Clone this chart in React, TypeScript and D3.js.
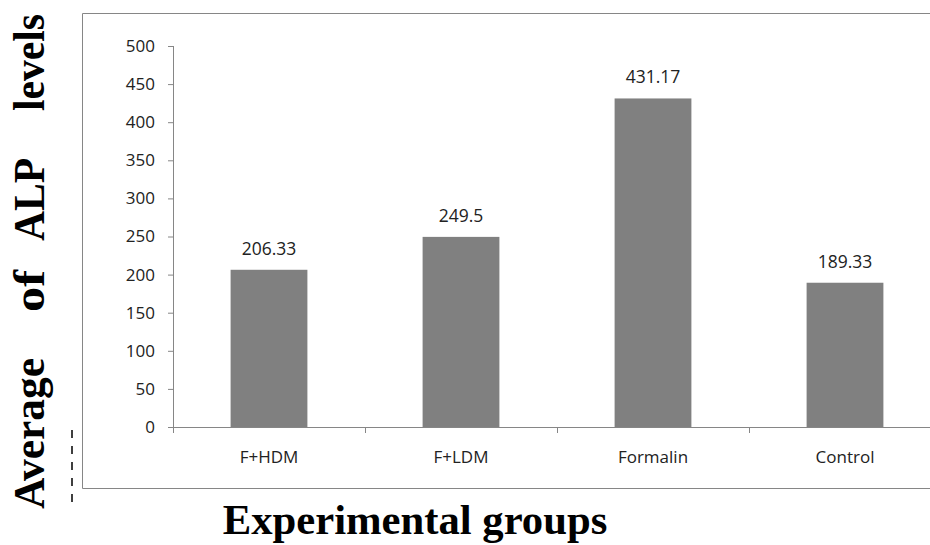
import * as d3 from "d3";
import React from "react";

const groups = ["F+HDM", "F+LDM", "Formalin", "Control"];
const averages = [206.33, 249.5, 431.17, 189.33];
const valueLabels = ["206.33", "249.5", "431.17", "189.33"];
const yTicks = [0, 50, 100, 150, 200, 250, 300, 350, 400, 450, 500];
const yTitleWords = ["Average", "of", "ALP", "levels"];

const width = 930;
const height = 545;
const plot = { left: 173, right: 941, top: 46, bottom: 427 };

const x = d3
  .scaleBand<string>()
  .domain(groups)
  .range([plot.left, plot.right])
  .paddingInner(0.6)
  .paddingOuter(0.3);
const y = d3.scaleLinear().domain([0, 500]).range([plot.bottom, plot.top]);

// word spans along the rotated title, measured from the top (start, end)
const wordSpans: [number, number][] = [
  [358, 509],
  [270, 312],
  [158, 241],
  [14, 111],
];

const axisColor = "#868686";
const font = "'Open Sans', 'Noto Sans', sans-serif";
const serif = "'Liberation Serif', 'DejaVu Serif', serif";

export default function App() {
  const step = x.step();
  const boundaries = groups.map((_, i) => plot.left + i * step).concat(plot.right);
  return (
    <svg
      width={width}
      height={height}
      viewBox={`0 0 ${width} ${height}`}
      style={{ position: "absolute", left: 0, top: 0, background: "white" }}
    >
      {/* chart frame, runs off to the right */}
      <path d="M960,13.5 H82.5 V488.5 H960" fill="none" stroke={axisColor} strokeWidth={1} />

      {/* y axis */}
      <line x1={plot.left + 0.5} x2={plot.left + 0.5} y1={plot.top} y2={plot.bottom} stroke={axisColor} />
      {yTicks.map((t) => (
        <g key={t}>
          <line x1={plot.left - 5} x2={plot.left} y1={y(t) + 0.5} y2={y(t) + 0.5} stroke={axisColor} />
          <text
            x={plot.left - 18}
            y={y(t)}
            dy="0.35em"
            textAnchor="end"
            fontFamily={font}
            fontSize={17}
            fill="#222"
          >
            {t}
          </text>
        </g>
      ))}

      {/* x axis */}
      <line x1={plot.left} x2={plot.right} y1={plot.bottom + 0.5} y2={plot.bottom + 0.5} stroke={axisColor} />
      {boundaries.map((b, i) => (
        <line key={i} x1={b + 0.5} x2={b + 0.5} y1={plot.bottom} y2={plot.bottom + 6} stroke={axisColor} />
      ))}

      {groups.map((g, i) => {
        const bx = x(g)!;
        const bw = x.bandwidth();
        return (
          <g key={g}>
            <rect x={bx} y={y(averages[i])} width={bw} height={plot.bottom - y(averages[i])} fill="#808080" />
            <text
              x={bx + bw / 2}
              y={y(averages[i]) - 15}
              textAnchor="middle"
              fontFamily={font}
              fontSize={17.5}
              fill="#222"
            >
              {valueLabels[i]}
            </text>
            <text
              x={bx + bw / 2}
              y={plot.bottom + 30}
              dy="0.35em"
              textAnchor="middle"
              fontFamily={font}
              fontSize={17}
              fill="#222"
            >
              {g}
            </text>
          </g>
        );
      })}

      {/* y title, words spread along the height */}
      {yTitleWords.map((w, i) => {
        const [a, b] = wordSpans[i];
        return (
          <text
            key={w}
            transform={`translate(44, ${b}) rotate(-90)`}
            textLength={b - a}
            lengthAdjust="spacingAndGlyphs"
            fontFamily={serif}
            fontWeight="bold"
            fontSize={45}
            fill="#000"
          >
            {w}
          </text>
        );
      })}
      <line x1={72} x2={72} y1={430} y2={508} stroke="#000" strokeWidth={1.5} strokeDasharray="8,8" />

      {/* x title */}
      <text
        x={415}
        y={534}
        textAnchor="middle"
        fontFamily={serif}
        fontWeight="bold"
        fontSize={42.7}
        fill="#000"
      >
        Experimental groups
      </text>
    </svg>
  );
}
